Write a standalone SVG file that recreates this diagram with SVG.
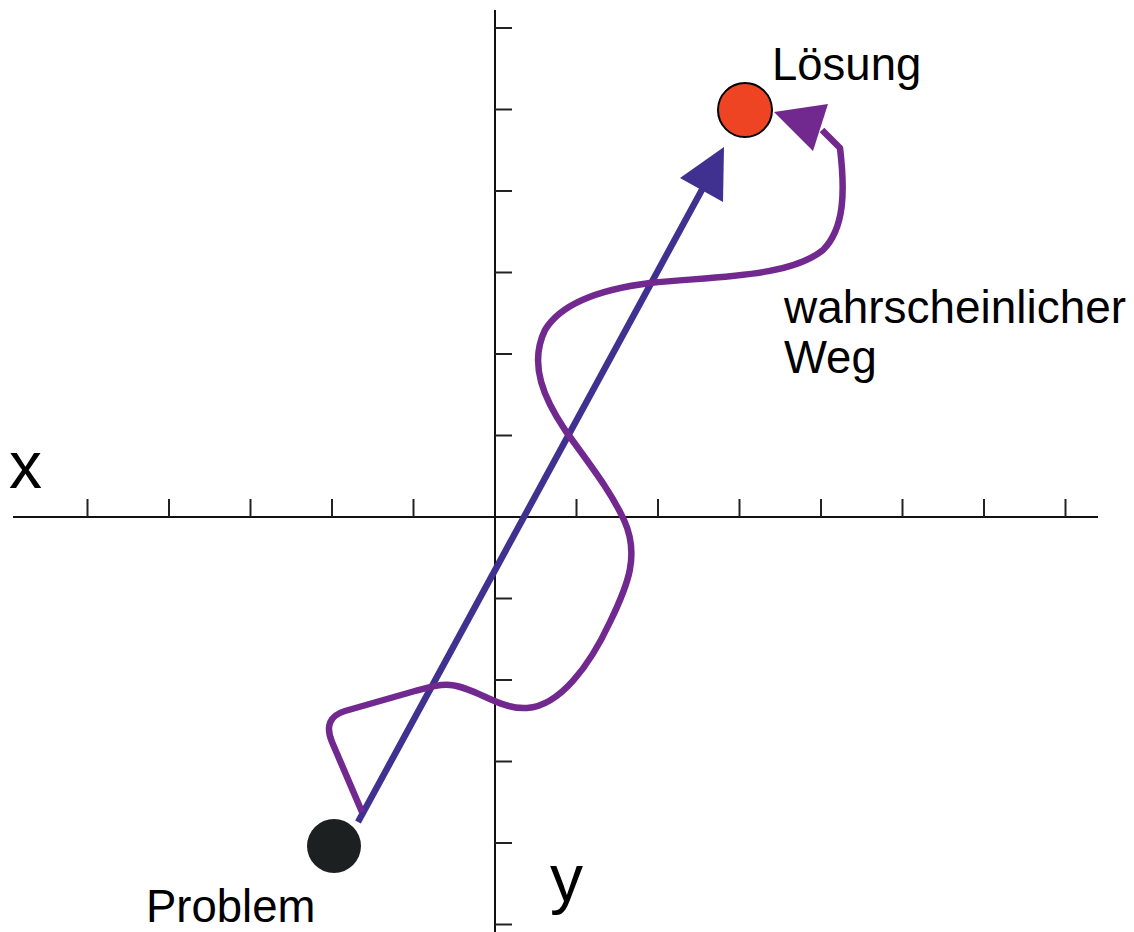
<svg xmlns="http://www.w3.org/2000/svg" width="1134" height="932" viewBox="0 0 1134 932">
<style>
.axis{stroke:#111;stroke-width:2;fill:none}
.tick{stroke:#222;stroke-width:2}
.lbl{font-family:"Liberation Sans",Arial,sans-serif;font-size:45.5px;fill:#000}
.big{font-family:"Liberation Sans",Arial,sans-serif;font-size:66px;fill:#000}
</style>
<rect width="1134" height="932" fill="#fff"/>
<g id="axes">
<line class="axis" x1="495" y1="10" x2="495" y2="932"/>
<line class="axis" x1="13" y1="517" x2="1098" y2="517"/>
<g class="tick">
<line x1="495" y1="28" x2="512" y2="28"/>
<line x1="495" y1="109.5" x2="512" y2="109.5"/>
<line x1="495" y1="191" x2="512" y2="191"/>
<line x1="495" y1="272.5" x2="512" y2="272.5"/>
<line x1="495" y1="354" x2="512" y2="354"/>
<line x1="495" y1="435.5" x2="512" y2="435.5"/>
<line x1="495" y1="598.5" x2="512" y2="598.5"/>
<line x1="495" y1="680" x2="512" y2="680"/>
<line x1="495" y1="761.5" x2="512" y2="761.5"/>
<line x1="495" y1="843" x2="512" y2="843"/>
<line x1="495" y1="924.5" x2="512" y2="924.5"/>
<line x1="87.5" y1="499" x2="87.5" y2="517"/>
<line x1="169" y1="499" x2="169" y2="517"/>
<line x1="250.5" y1="499" x2="250.5" y2="517"/>
<line x1="332" y1="499" x2="332" y2="517"/>
<line x1="413.5" y1="499" x2="413.5" y2="517"/>
<line x1="576.5" y1="499" x2="576.5" y2="517"/>
<line x1="658" y1="499" x2="658" y2="517"/>
<line x1="739.5" y1="499" x2="739.5" y2="517"/>
<line x1="821" y1="499" x2="821" y2="517"/>
<line x1="902.5" y1="499" x2="902.5" y2="517"/>
<line x1="984" y1="499" x2="984" y2="517"/>
<line x1="1065.5" y1="499" x2="1065.5" y2="517"/>
</g>
<text class="big" x="9" y="488">x</text>
<text class="big" x="550" y="901">y</text>
</g>
<g id="connectors">
<line x1="358" y1="822" x2="704" y2="186" stroke="#40308f" stroke-width="6.5"/>
<polygon points="724,147 680,178 723,202" fill="#40308f"/>
<path d="M362,812 L332,742 Q322,718 345,711 L415,691 C430,687 440,684 450,685 C475,687 500,710 527,708 C560,706 590,665 610,622 C628,585 640,555 624,520 C610,490 590,465 565,430 C545,400 528,365 545,330 C560,305 595,290 650,283 C720,276 790,277 823,250 C845,228 845,190 840,148 L822,130" fill="none" stroke="#72298f" stroke-width="6.5" stroke-linejoin="round"/>
<polygon points="774,112 828,104 813,151" fill="#72298f"/>
</g>
<g id="problem">
<circle cx="334" cy="846" r="27" fill="#1d2020"/>
<text class="lbl" x="146" y="922">Problem</text>
</g>
<g id="loesung">
<circle cx="745" cy="110" r="27" fill="#ef4423" stroke="#000" stroke-width="2"/>
<text class="lbl" x="772" y="80">Lösung</text>
</g>
<g id="weg">
<text class="lbl" x="784" y="323" textLength="342" lengthAdjust="spacingAndGlyphs">wahrscheinlicher</text>
<text class="lbl" x="784" y="373">Weg</text>
</g>
</svg>
